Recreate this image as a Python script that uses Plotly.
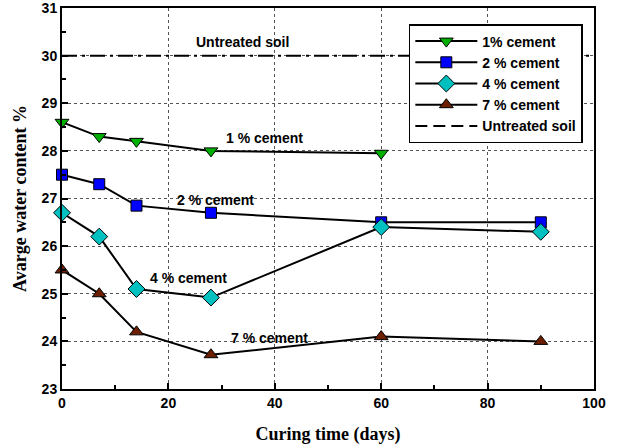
import plotly.graph_objects as go

days = [0, 7, 14, 28, 60, 90]
days_1 = [0, 7, 14, 28, 60]
cement_1 = [28.6, 28.3, 28.2, 28.0, 27.95]
cement_2 = [27.5, 27.3, 26.85, 26.7, 26.5, 26.5]
cement_4 = [26.7, 26.2, 25.1, 24.92, 26.4, 26.3]
cement_7 = [25.5, 25.0, 24.2, 23.72, 24.1, 24.0]
untreated_x = [0, 100]
untreated_y = [30, 30]

x_ticks = [0, 20, 40, 60, 80, 100]
y_ticks = [23, 24, 25, 26, 27, 28, 29, 30, 31]

fig = go.Figure()

def add_series(x, y, name, symbol, color, size=11):
    fig.add_trace(go.Scatter(
        x=x, y=y, name=name, mode="lines+markers",
        line=dict(color="black", width=2),
        marker=dict(symbol=symbol, color=color, size=size,
                    line=dict(color="black", width=1)),
        cliponaxis=False,
    ))

add_series(days_1, cement_1, "1% cement", "triangle-down", "#00b000", 12)
add_series(days, cement_2, "2 % cement", "square", "#0000ff", 11)
add_series(days, cement_4, "4 % cement", "diamond", "#00c0c0", 13)
add_series(days, cement_7, "7 % cement", "triangle-up", "#6b1f00", 12)

fig.add_trace(go.Scatter(
    x=untreated_x, y=untreated_y, mode="lines", showlegend=False,
    line=dict(color="black", width=2, dash="15px,5px,3px,5px"),
))
fig.add_trace(go.Scatter(
    x=[None], y=[None], mode="lines", name="Untreated soil",
    line=dict(color="black", width=2, dash="12px,6px"),
))

label_font = dict(family="Liberation Sans, Arial", size=14, color="black")
for tx, ty, txt in [(34, 30.28, "<b>Untreated soil</b>"),
                    (38, 28.27, "<b>1 % cement</b>"),
                    (28.8, 26.97, "<b>2 % cement</b>"),
                    (23.7, 25.33, "<b>4 % cement</b>"),
                    (39, 24.08, "<b>7 % cement</b>")]:
    fig.add_annotation(x=tx, y=ty, text=txt, showarrow=False, font=label_font)

axis_common = dict(
    showline=True, linecolor="black", linewidth=2, mirror=True,
    ticks="inside", ticklen=6, tickwidth=2, tickcolor="black",
    showgrid=True, gridcolor="#555555", griddash="dot", gridwidth=1,
    zeroline=False, automargin=False, ticklabeloverflow="allow",
    tickfont=dict(family="Liberation Sans, Arial", size=14, color="black", weight="bold"),
)

title_font = dict(family="Liberation Serif, Times New Roman", size=18, color="black")

fig.update_xaxes(
    range=[0, 100], tickvals=x_ticks, ticktext=[str(v) for v in x_ticks],
    minor=dict(dtick=10, ticks="inside", ticklen=4, tickwidth=2, tickcolor="black", showgrid=False),
    title=dict(text="<b>Curing time (days)</b>", font=title_font, standoff=18),
    **axis_common,
)
fig.update_yaxes(
    range=[23, 31], tickvals=y_ticks, ticktext=[str(v) for v in y_ticks],
    minor=dict(dtick=0.5, ticks="inside", ticklen=4, tickwidth=2, tickcolor="black", showgrid=False),
    title=dict(text="<b>Avarge water content %</b>", font=title_font, standoff=10),
    **axis_common,
)

fig.update_layout(
    width=620, height=447,
    margin=dict(l=62, r=26, t=8, b=58),
    plot_bgcolor="white", paper_bgcolor="white",
    legend=dict(
        x=0.979, y=0.958, xanchor="right", yanchor="top",
        bgcolor="white", bordercolor="black", borderwidth=1.5,
        font=dict(family="Liberation Sans, Arial", size=14, color="black", weight="bold"),
        tracegroupgap=0, itemwidth=62,
    ),
)

fig.write_html("out.html", config={"displayModeBar": False},
               post_script="document.body.style.margin='0';")
